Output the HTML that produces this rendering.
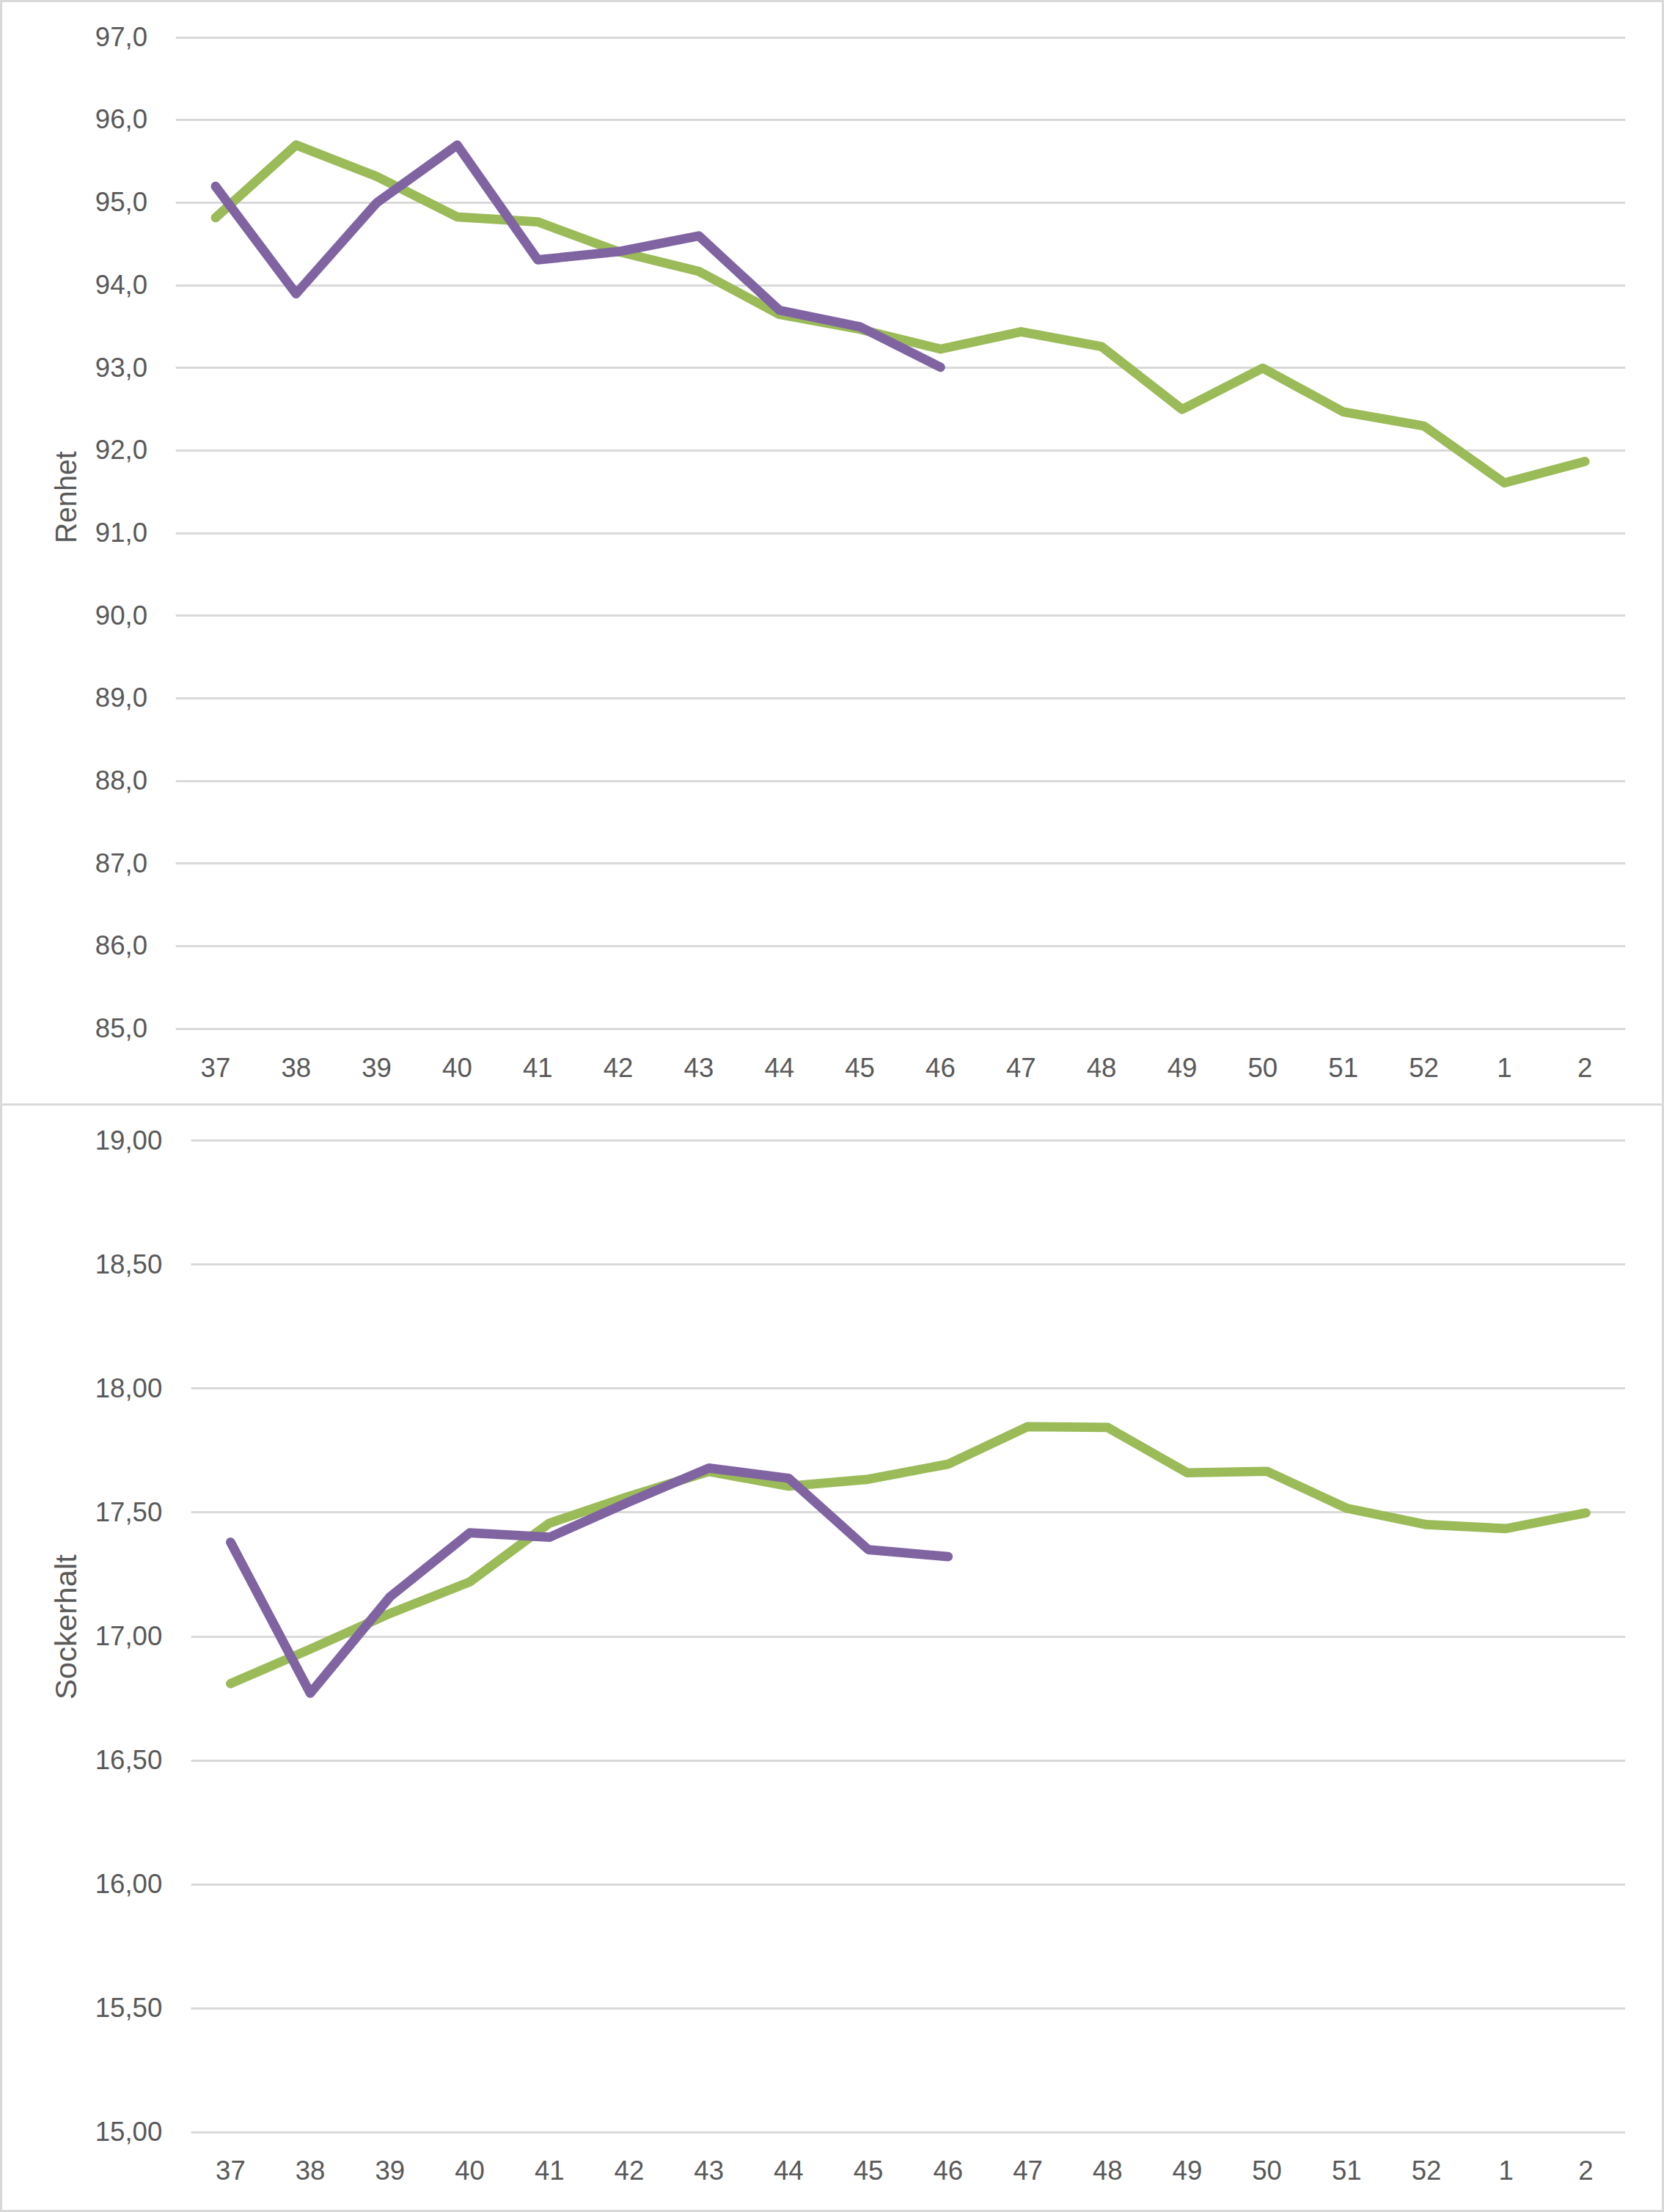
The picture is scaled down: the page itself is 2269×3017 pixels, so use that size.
<!DOCTYPE html>
<html><head><meta charset="utf-8"><title>Renhet och Sockerhalt</title>
<style>
html,body{margin:0;padding:0;background:#fff;}
body{width:2269px;height:3017px;overflow:hidden;}
svg{display:block;}
.a{font-family:"Liberation Sans", Arial, sans-serif;font-size:36.6px;fill:#595959;}
.t{font-family:"Liberation Sans", Arial, sans-serif;font-size:40.4px;fill:#595959;}
</style></head>
<body>
<svg width="2269" height="3017" viewBox="0 0 2269 3017">
<rect width="2269" height="3017" fill="#fff"/>
<rect x="1.5" y="1.5" width="2266" height="3014" fill="none" stroke="#D9D9D9" stroke-width="3"/>
<rect x="0" y="1505" width="2269" height="3" fill="#D9D9D9"/>
<rect x="239.70" y="50" width="1976.40" height="3" fill="#D9D9D9"/>
<text x="201" y="62.80" text-anchor="end" class="a">97,0</text>
<rect x="239.70" y="162" width="1976.40" height="3" fill="#D9D9D9"/>
<text x="201" y="175.48" text-anchor="end" class="a">96,0</text>
<rect x="239.70" y="275" width="1976.40" height="3" fill="#D9D9D9"/>
<text x="201" y="288.17" text-anchor="end" class="a">95,0</text>
<rect x="239.70" y="388" width="1976.40" height="3" fill="#D9D9D9"/>
<text x="201" y="400.85" text-anchor="end" class="a">94,0</text>
<rect x="239.70" y="500" width="1976.40" height="3" fill="#D9D9D9"/>
<text x="201" y="513.53" text-anchor="end" class="a">93,0</text>
<rect x="239.70" y="613" width="1976.40" height="3" fill="#D9D9D9"/>
<text x="201" y="626.22" text-anchor="end" class="a">92,0</text>
<rect x="239.70" y="726" width="1976.40" height="3" fill="#D9D9D9"/>
<text x="201" y="738.90" text-anchor="end" class="a">91,0</text>
<rect x="239.70" y="838" width="1976.40" height="3" fill="#D9D9D9"/>
<text x="201" y="851.58" text-anchor="end" class="a">90,0</text>
<rect x="239.70" y="951" width="1976.40" height="3" fill="#D9D9D9"/>
<text x="201" y="964.27" text-anchor="end" class="a">89,0</text>
<rect x="239.70" y="1064" width="1976.40" height="3" fill="#D9D9D9"/>
<text x="201" y="1076.95" text-anchor="end" class="a">88,0</text>
<rect x="239.70" y="1176" width="1976.40" height="3" fill="#D9D9D9"/>
<text x="201" y="1189.63" text-anchor="end" class="a">87,0</text>
<rect x="239.70" y="1289" width="1976.40" height="3" fill="#D9D9D9"/>
<text x="201" y="1302.32" text-anchor="end" class="a">86,0</text>
<rect x="239.70" y="1402" width="1976.40" height="3" fill="#D9D9D9"/>
<text x="201" y="1415.00" text-anchor="end" class="a">85,0</text>
<text x="293.90" y="1469" text-anchor="middle" class="a">37</text>
<text x="403.74" y="1469" text-anchor="middle" class="a">38</text>
<text x="513.58" y="1469" text-anchor="middle" class="a">39</text>
<text x="623.42" y="1469" text-anchor="middle" class="a">40</text>
<text x="733.26" y="1469" text-anchor="middle" class="a">41</text>
<text x="843.10" y="1469" text-anchor="middle" class="a">42</text>
<text x="952.94" y="1469" text-anchor="middle" class="a">43</text>
<text x="1062.78" y="1469" text-anchor="middle" class="a">44</text>
<text x="1172.62" y="1469" text-anchor="middle" class="a">45</text>
<text x="1282.46" y="1469" text-anchor="middle" class="a">46</text>
<text x="1392.30" y="1469" text-anchor="middle" class="a">47</text>
<text x="1502.14" y="1469" text-anchor="middle" class="a">48</text>
<text x="1611.98" y="1469" text-anchor="middle" class="a">49</text>
<text x="1721.82" y="1469" text-anchor="middle" class="a">50</text>
<text x="1831.66" y="1469" text-anchor="middle" class="a">51</text>
<text x="1941.50" y="1469" text-anchor="middle" class="a">52</text>
<text x="2051.34" y="1469" text-anchor="middle" class="a">1</text>
<text x="2161.18" y="1469" text-anchor="middle" class="a">2</text>
<text transform="translate(104.1,678.3) rotate(-90)" text-anchor="middle" class="t" textLength="125.5" lengthAdjust="spacingAndGlyphs">Renhet</text>
<polyline points="293.90,296.95 403.74,197.79 513.58,240.61 623.42,295.82 733.26,302.58 843.10,343.15 952.94,370.19 1062.78,428.79 1172.62,449.07 1282.46,476.12 1392.30,452.45 1502.14,472.74 1611.98,558.38 1721.82,502.03 1831.66,561.76 1941.50,580.91 2051.34,658.66 2161.18,629.37" fill="none" stroke="#9BBB59" stroke-width="12.7" stroke-linejoin="round" stroke-linecap="round"/>
<polyline points="293.90,254.13 403.74,400.62 513.58,276.67 623.42,197.79 733.26,354.42 843.10,343.15 952.94,321.74 1062.78,423.15 1172.62,445.69 1282.46,500.91" fill="none" stroke="#8064A2" stroke-width="12.7" stroke-linejoin="round" stroke-linecap="round"/>
<rect x="260.60" y="1554" width="1955.40" height="3" fill="#D9D9D9"/>
<text x="221.3" y="1567.80" text-anchor="end" class="a">19,00</text>
<rect x="260.60" y="1723" width="1955.40" height="3" fill="#D9D9D9"/>
<text x="221.3" y="1736.77" text-anchor="end" class="a">18,50</text>
<rect x="260.60" y="1892" width="1955.40" height="3" fill="#D9D9D9"/>
<text x="221.3" y="1905.75" text-anchor="end" class="a">18,00</text>
<rect x="260.60" y="2061" width="1955.40" height="3" fill="#D9D9D9"/>
<text x="221.3" y="2074.72" text-anchor="end" class="a">17,50</text>
<rect x="260.60" y="2231" width="1955.40" height="3" fill="#D9D9D9"/>
<text x="221.3" y="2243.70" text-anchor="end" class="a">17,00</text>
<rect x="260.60" y="2400" width="1955.40" height="3" fill="#D9D9D9"/>
<text x="221.3" y="2412.68" text-anchor="end" class="a">16,50</text>
<rect x="260.60" y="2569" width="1955.40" height="3" fill="#D9D9D9"/>
<text x="221.3" y="2581.65" text-anchor="end" class="a">16,00</text>
<rect x="260.60" y="2738" width="1955.40" height="3" fill="#D9D9D9"/>
<text x="221.3" y="2750.62" text-anchor="end" class="a">15,50</text>
<rect x="260.60" y="2907" width="1955.40" height="3" fill="#D9D9D9"/>
<text x="221.3" y="2919.60" text-anchor="end" class="a">15,00</text>
<text x="314.40" y="2972.6" text-anchor="middle" class="a">37</text>
<text x="423.11" y="2972.6" text-anchor="middle" class="a">38</text>
<text x="531.82" y="2972.6" text-anchor="middle" class="a">39</text>
<text x="640.53" y="2972.6" text-anchor="middle" class="a">40</text>
<text x="749.24" y="2972.6" text-anchor="middle" class="a">41</text>
<text x="857.95" y="2972.6" text-anchor="middle" class="a">42</text>
<text x="966.66" y="2972.6" text-anchor="middle" class="a">43</text>
<text x="1075.37" y="2972.6" text-anchor="middle" class="a">44</text>
<text x="1184.08" y="2972.6" text-anchor="middle" class="a">45</text>
<text x="1292.79" y="2972.6" text-anchor="middle" class="a">46</text>
<text x="1401.50" y="2972.6" text-anchor="middle" class="a">47</text>
<text x="1510.21" y="2972.6" text-anchor="middle" class="a">48</text>
<text x="1618.92" y="2972.6" text-anchor="middle" class="a">49</text>
<text x="1727.63" y="2972.6" text-anchor="middle" class="a">50</text>
<text x="1836.34" y="2972.6" text-anchor="middle" class="a">51</text>
<text x="1945.05" y="2972.6" text-anchor="middle" class="a">52</text>
<text x="2053.76" y="2972.6" text-anchor="middle" class="a">1</text>
<text x="2162.47" y="2972.6" text-anchor="middle" class="a">2</text>
<text transform="translate(103.7,2219.1) rotate(-90)" text-anchor="middle" class="t" textLength="198" lengthAdjust="spacingAndGlyphs">Sockerhalt</text>
<polyline points="314.40,2296.27 423.11,2249.25 531.82,2200.54 640.53,2157.59 749.24,2077.42 857.95,2040.89 966.66,2007.06 1075.37,2027.02 1184.08,2017.55 1292.79,1996.92 1401.50,1945.84 1510.21,1946.86 1618.92,2008.75 1727.63,2006.73 1836.34,2057.12 1945.05,2079.45 2053.76,2084.86 2162.47,2063.55" fill="none" stroke="#9BBB59" stroke-width="12.7" stroke-linejoin="round" stroke-linecap="round"/>
<polyline points="314.40,2103.47 423.11,2309.46 531.82,2177.88 640.53,2090.61 749.24,2096.70 857.95,2048.33 966.66,2002.33 1075.37,2016.20 1184.08,2113.61 1292.79,2123.08" fill="none" stroke="#8064A2" stroke-width="12.7" stroke-linejoin="round" stroke-linecap="round"/>
</svg>
</body></html>
